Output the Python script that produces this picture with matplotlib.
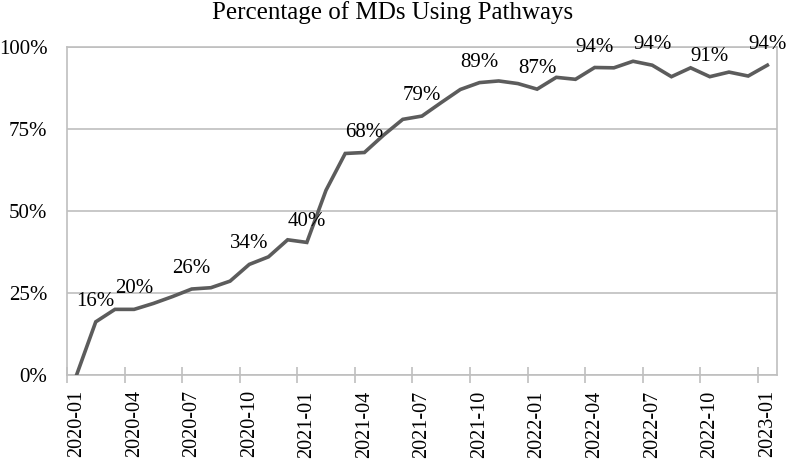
import matplotlib
matplotlib.use("Agg")
import matplotlib.pyplot as plt
from matplotlib.ticker import FuncFormatter

# Data (monthly, 2020-01 .. 2023-01)
months = [f"{y}-{m:02d}" for y in (2020, 2021, 2022) for m in range(1, 13)] + ["2023-01"]
values = [0, 16.2, 20.0, 20.0, 21.8, 23.9, 26.2, 26.6, 28.6, 33.7, 36.0, 41.2, 40.4,
          56.3, 67.5, 67.8, 73.1, 77.9, 78.9, 83.0, 87.0, 89.1, 89.6, 88.8, 87.1,
          90.7, 90.1, 93.7, 93.6, 95.6, 94.4, 90.9, 93.6, 90.9, 92.3, 91.1, 94.4]
label_idx = [1, 3, 6, 9, 12, 15, 18, 21, 24, 27, 30, 33, 36]
tick_idx = list(range(0, 37, 3))
yticks = [0, 25, 50, 75, 100]
title = "Percentage of MDs Using Pathways"

plt.rcParams['font.family'] = ['Liberation Serif', 'DejaVu Serif']

fig = plt.figure(figsize=(7.86, 4.59), dpi=100)
ax = fig.add_axes([0.0852, 0.183, 0.9033, 0.715])

x = list(range(len(values)))
grid_c = "#bfbfbf"
for yv in yticks:
    ax.axhline(yv, color=grid_c, lw=1.2, zorder=1)
ax.plot(x, values, color="#5c5c5c", lw=2.6, zorder=3, solid_joinstyle="miter")

for i in label_idx:
    ax.annotate(f"{values[i]:.0f}%", (x[i], values[i]), xytext=(0, 11.5),
                textcoords="offset points", ha="center", va="baseline",
                fontsize=15, color="black", zorder=4)

ax.set_xlim(-0.5, len(values) - 0.5)
ax.set_ylim(0, 100)
ax.set_yticks(yticks)
ax.yaxis.set_major_formatter(FuncFormatter(lambda v, p: f"{v:.0f}%"))
# labels centred on categories, tick marks between categories
ax.set_xticks(tick_idx)
ax.set_xticklabels([months[i] for i in tick_idx], rotation=90)
ax.set_xticks([i - 0.5 for i in tick_idx], minor=True)
ax.tick_params(axis='x', which='major', length=0, labelsize=14.5, pad=11)
ax.tick_params(axis='x', which='minor', direction='inout', length=12, width=1.2,
               color=grid_c)
ax.tick_params(axis='y', length=0, labelsize=15, pad=14)
for s in ax.spines.values():
    s.set_color(grid_c)
    s.set_linewidth(1.2)

fig.text(0.5, 1 - 19 / 459, title, ha="center", va="baseline", fontsize=18)

fig.savefig("out.png", dpi=100)
